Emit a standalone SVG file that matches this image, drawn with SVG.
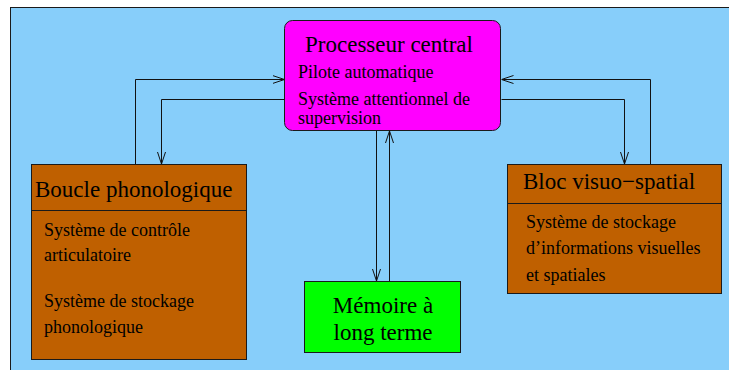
<svg xmlns="http://www.w3.org/2000/svg" width="729" height="370" viewBox="0 0 729 370">
  <style>
    .box { stroke: #1a1a1a; stroke-width: 1; }
    text { font-family: 'Liberation Serif', 'DejaVu Serif', serif; fill: #000; }
    .title { font-size: 23px; }
    .body { font-size: 18px; }
    .conn { fill: none; stroke: #111; stroke-width: 1; }
  </style>
  <defs>
    <marker id="arrow" viewBox="0 0 12 10" refX="12" refY="5" markerWidth="12" markerHeight="10" markerUnits="userSpaceOnUse" orient="auto">
      <path d="M0,1 L12,5 L0,9" fill="none" stroke="#111" stroke-width="1"/>
    </marker>
  </defs>

  <!-- page background -->
  <rect x="0" y="0" width="729" height="370" fill="#ffffff"/>
  <rect x="10.5" y="7.5" width="730" height="380" fill="#87cefa" stroke="#1a1a1a" stroke-width="1"/>

  <!-- connectors -->
  <g id="connectors">
    <path class="conn" d="M135.5,164 V79.5 H284.5" marker-end="url(#arrow)"/>
    <path class="conn" d="M284.5,99.5 H161.5 V164" marker-end="url(#arrow)"/>
    <path class="conn" d="M650.5,164 V79.5 H501.5" marker-end="url(#arrow)"/>
    <path class="conn" d="M501.5,99.5 H624.5 V164" marker-end="url(#arrow)"/>
    <path class="conn" d="M376.5,131 V281" marker-end="url(#arrow)"/>
    <path class="conn" d="M389.5,281 V131" marker-end="url(#arrow)"/>
  </g>

  <!-- central executive -->
  <g id="processeur-central">
    <rect class="box" x="284.5" y="20.5" width="216" height="110" rx="8" ry="8" fill="#ff00ff"/>
    <text class="title" x="389" y="52" text-anchor="middle">Processeur central</text>
    <text class="body" x="298" y="78">Pilote automatique</text>
    <text class="body" x="298" y="105">Système attentionnel de</text>
    <text class="body" x="298" y="124">supervision</text>
  </g>

  <!-- phonological loop -->
  <g id="boucle-phonologique">
    <rect class="box" x="31.5" y="164.5" width="215" height="195" fill="#bf6000"/>
    <line class="box" x1="31.5" y1="210.5" x2="246.5" y2="210.5"/>
    <text class="title" x="35" y="197">Boucle phonologique</text>
    <text class="body" x="44" y="236">Système de contrôle</text>
    <text class="body" x="44" y="261">articulatoire</text>
    <text class="body" x="44" y="307">Système de stockage</text>
    <text class="body" x="44" y="333">phonologique</text>
  </g>

  <!-- visuo-spatial sketchpad -->
  <g id="bloc-visuo-spatial">
    <rect class="box" x="507.5" y="164.5" width="214" height="129" fill="#bf6000"/>
    <line class="box" x1="507.5" y1="203.5" x2="721.5" y2="203.5"/>
    <text class="title" x="523" y="189">Bloc visuo−spatial</text>
    <text class="body" x="526" y="228">Système de stockage</text>
    <text class="body" x="526" y="254">d’informations visuelles</text>
    <text class="body" x="526" y="281">et spatiales</text>
  </g>

  <!-- long-term memory -->
  <g id="memoire-long-terme">
    <rect class="box" x="304.5" y="281.5" width="156" height="71" fill="#00ff00"/>
    <text class="title" x="383" y="313" text-anchor="middle">Mémoire à</text>
    <text class="title" x="383" y="340" text-anchor="middle">long terme</text>
  </g>
</svg>
